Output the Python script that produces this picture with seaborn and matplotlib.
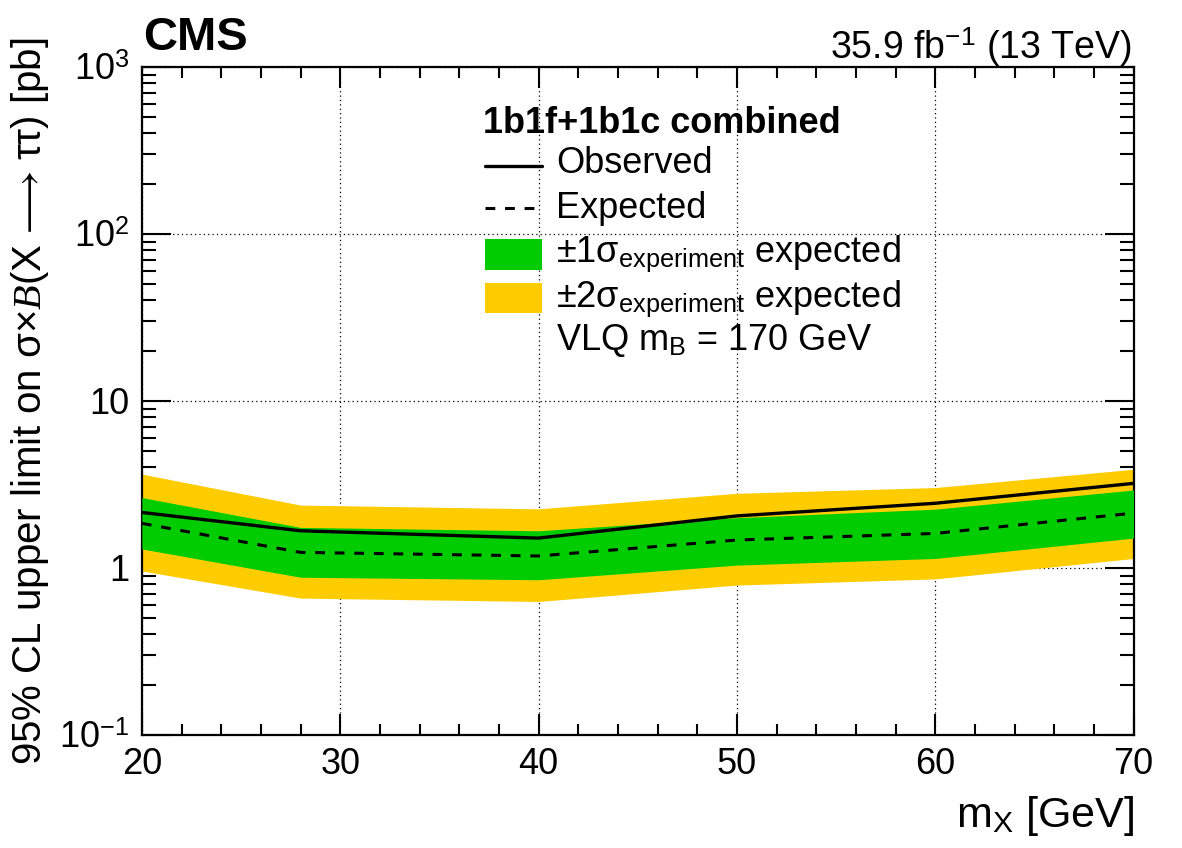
import numpy as np
import pandas as pd
import matplotlib
matplotlib.use("Agg")
import matplotlib.pyplot as plt
import seaborn as sns
from matplotlib.lines import Line2D
from matplotlib.patches import Rectangle
from matplotlib.ticker import MultipleLocator, LogLocator, NullFormatter

# limits vs mX
mx = [20, 28, 40, 50, 60, 70]
observed = [2.15, 1.67, 1.51, 2.05, 2.44, 3.21]
expected = [1.85, 1.24, 1.18, 1.47, 1.61, 2.13]
exp_1s_lo = [1.30, 0.88, 0.85, 1.04, 1.14, 1.51]
exp_1s_hi = [2.64, 1.75, 1.67, 2.00, 2.25, 2.93]
exp_2s_lo = [0.96, 0.66, 0.63, 0.79, 0.86, 1.14]
exp_2s_hi = [3.65, 2.38, 2.26, 2.80, 3.03, 3.90]

y_ticks = [0.1, 1, 10, 100, 1000]
y_tick_labels = ["$10^{-1}$", "1", "10", "$10^{2}$", "$10^{3}$"]

df = pd.DataFrame({
    "mx": mx, "observed": observed, "expected": expected,
    "lo1": exp_1s_lo, "hi1": exp_1s_hi, "lo2": exp_2s_lo, "hi2": exp_2s_hi,
})

GREEN = "#00cc00"
YELLOW = "#ffcc00"

sns.set_style("ticks")
plt.rcParams["font.family"] = ["Liberation Sans", "DejaVu Sans"]
plt.rcParams["mathtext.fontset"] = "custom"
plt.rcParams["mathtext.rm"] = "Liberation Sans"
plt.rcParams["mathtext.it"] = "Liberation Serif:italic"
plt.rcParams["mathtext.bf"] = "Liberation Sans:bold"
for key in ["text.color", "axes.labelcolor", "xtick.color", "ytick.color", "axes.edgecolor"]:
    plt.rcParams[key] = "black"

fig = plt.figure(figsize=(11.82, 8.48), dpi=100)
ax = fig.add_axes([0.120, 0.1333, 0.839, 0.7877])

# bands
ax.fill_between(df["mx"], df["lo2"], df["hi2"], color=YELLOW, lw=0, zorder=2)
ax.fill_between(df["mx"], df["lo1"], df["hi1"], color=GREEN, lw=0, zorder=3)

# lines
sns.lineplot(data=df, x="mx", y="expected", ax=ax, color="black", lw=2.2,
             dashes=False, zorder=4)
ax.lines[-1].set_dashes((3.2, 3.2))
sns.lineplot(data=df, x="mx", y="observed", ax=ax, color="black", lw=2.4, zorder=5)

ax.set_yscale("log")
ax.set_xlim(20, 70)
ax.set_ylim(0.1, 1000)

ax.xaxis.set_major_locator(MultipleLocator(10))
ax.xaxis.set_minor_locator(MultipleLocator(2))
ax.set_yticks(y_ticks)
ax.set_yticklabels(y_tick_labels)
ax.yaxis.set_minor_locator(LogLocator(base=10, subs=np.arange(2, 10)))
ax.yaxis.set_minor_formatter(NullFormatter())

ax.tick_params(which="both", direction="in", top=True, right=True, width=1.5,
               labelsize=26, pad=9, color="black", labelcolor="black")
ax.tick_params(axis="x", which="major", length=15)
ax.tick_params(axis="x", which="minor", length=8)
ax.tick_params(axis="y", which="major", length=21)
ax.tick_params(axis="y", which="minor", length=10)
for sp in ax.spines.values():
    sp.set_linewidth(1.6)
    sp.set_color("black")

ax.grid(True, which="major", color="black", lw=0.9, ls=(0, (1, 2.5)), zorder=0)
ax.set_axisbelow(True)

ax.set_xlabel("m$_{\\mathrm{X}}$ [GeV]", fontsize=31, ha="right")
ax.xaxis.set_label_coords(1.0, -0.088)
ax.set_ylabel("95% CL upper limit on σ×$\\mathit{B}$(X$\\,\\longrightarrow\\,$ττ) [pb]",
              fontsize=29)
ax.yaxis.set_label_coords(-0.092, 0.5)

fig.text(0.121, 1 - 50 / 848, "CMS", fontsize=34, fontweight="bold",
         ha="left", va="baseline")
fig.text(0.958, 1 - 59 / 848, "35.9 fb$^{\\mathrm{-1}}$ (13 TeV)", fontsize=27,
         ha="right", va="baseline")

# legend, drawn by hand in axes coordinates
tr = ax.transAxes
fs = 26
ax.text(0.344, 0.901, "1b1f+1b1c combined", fontsize=fs, fontweight="bold",
        transform=tr, va="baseline")
ax.add_line(Line2D([0.346, 0.404], [0.852, 0.852], color="black", lw=2.4, transform=tr))
ax.text(0.418, 0.841, "Observed", fontsize=fs, transform=tr, va="baseline")
ax.add_line(Line2D([0.346, 0.404], [0.789, 0.789], color="black", lw=2.2,
                   dashes=(3.2, 3.2), transform=tr))
ax.text(0.418, 0.774, "Expected", fontsize=fs, transform=tr, va="baseline")
ax.add_patch(Rectangle((0.346, 0.696), 0.058, 0.047, color=GREEN, lw=0, transform=tr))
ax.text(0.418, 0.708, "±1σ$_{\\mathrm{experiment}}$ expected", fontsize=fs,
        transform=tr, va="baseline")
ax.add_patch(Rectangle((0.346, 0.632), 0.058, 0.045, color=YELLOW, lw=0, transform=tr))
ax.text(0.418, 0.641, "±2σ$_{\\mathrm{experiment}}$ expected", fontsize=fs,
        transform=tr, va="baseline")
ax.text(0.418, 0.576, "VLQ m$_{\\mathrm{B}}$ = 170 GeV", fontsize=fs,
        transform=tr, va="baseline")

fig.savefig("out.png", dpi=100)
